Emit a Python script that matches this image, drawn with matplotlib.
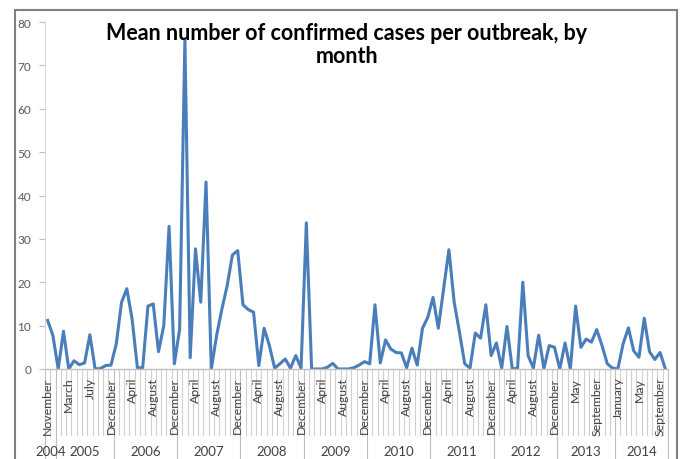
import matplotlib.pyplot as plt
import matplotlib.transforms as mtransforms
from matplotlib.patches import Rectangle

plt.rcParams['font.family'] = ['Lato', 'DejaVu Sans']

# months present in the series, per year
months_by_year = {
    2004: ['November', 'December'],
    2005: ['January', 'February', 'March', 'April', 'May', 'June', 'July',
           'August', 'September', 'November', 'December'],
    2006: ['January', 'February', 'March', 'April', 'May', 'June', 'July',
           'August', 'September', 'October', 'November', 'December'],
    2007: ['January', 'February', 'March', 'April', 'May', 'June', 'July',
           'August', 'September', 'October', 'November', 'December'],
    2008: ['January', 'February', 'March', 'April', 'May', 'June', 'July',
           'August', 'September', 'October', 'November', 'December'],
    2009: ['January', 'February', 'March', 'April', 'May', 'June', 'July',
           'August', 'September', 'October', 'November', 'December'],
    2010: ['January', 'February', 'March', 'April', 'May', 'June', 'July',
           'August', 'September', 'October', 'November', 'December'],
    2011: ['January', 'February', 'March', 'April', 'May', 'June', 'July',
           'August', 'September', 'October', 'November', 'December'],
    2012: ['January', 'February', 'March', 'April', 'May', 'June', 'July',
           'August', 'September', 'October', 'November', 'December'],
    2013: ['January', 'March', 'April', 'May', 'June', 'July',
           'August', 'September', 'October', 'November', 'December'],
    2014: ['January', 'February', 'March', 'April', 'May', 'June', 'July',
           'August', 'September', 'October'],
}

# mean confirmed cases per outbreak
mean_cases = [
    11.2, 7.7, 0.0, 8.7, 0.0, 1.9, 1.0, 1.4, 7.9, 0.0,
    0.1, 0.8, 0.9, 5.8, 15.4, 18.5, 11.5, 0.3, 0.3, 14.5,
    15.0, 4.0, 10.0, 32.9, 1.2, 9.2, 76.0, 2.6, 27.7, 15.4,
    43.1, 0.0, 7.7, 13.8, 19.2, 26.3, 27.3, 14.8, 13.7, 13.1,
    0.8, 9.4, 5.4, 0.2, 1.2, 2.3, 0.2, 3.1, 0.2, 33.7,
    0.0, 0.0, 0.0, 0.4, 1.3, 0.0, 0.0, 0.0, 0.3, 0.9,
    1.7, 1.2, 14.8, 1.4, 6.7, 4.6, 3.8, 3.7, 0.3, 4.8,
    0.9, 9.4, 11.9, 16.5, 9.4, 18.5, 27.5, 15.4, 8.5, 1.2,
    0.2, 8.3, 7.1, 14.8, 3.1, 6.0, 0.2, 9.8, 0.1, 0.1,
    20.0, 3.1, 0.2, 7.8, 0.1, 5.4, 5.0, 0.0, 6.0, 0.0,
    14.5, 5.0, 6.9, 6.2, 9.1, 5.4, 1.2, 0.2, 0.0, 5.8,
    9.5, 4.2, 2.7, 11.7, 4.0, 2.2, 3.8, 0.0,
]

months = []
years = []
for yr, mlist in months_by_year.items():
    for m in mlist:
        months.append(m)
        years.append(yr)
n = len(months)

fig = plt.figure(figsize=(6.81, 4.60), dpi=100)
ax = fig.add_axes([45 / 681, 90 / 460, 623 / 681, 347 / 460])

ax.plot(range(n), mean_cases, color='#4A7EBB', lw=2.2, solid_joinstyle='round')

ax.set_xlim(-0.5, n - 0.5)
ax.set_ylim(0, 80)
ax.set_yticks(range(0, 81, 10))
ax.tick_params(axis='y', labelsize=8.5, colors='#BFBFBF', labelcolor='#595959',
               length=4, width=0.8, pad=6)
ax.set_xticks([])
for s in ['top', 'right']:
    ax.spines[s].set_visible(False)
ax.spines['left'].set_color('#D9D9D9')
ax.spines['bottom'].set_color('#BFBFBF')
ax.spines['bottom'].set_linewidth(1.0)

# category tick lines and year separators below the axis
trans = mtransforms.blended_transform_factory(ax.transData, ax.transAxes)
year_edges = [0]
for i in range(1, n):
    if years[i] != years[i - 1]:
        year_edges.append(i)
year_edges.append(n)
for i in range(n + 1):
    if i in year_edges:
        ax.plot([i - 0.5, i - 0.5], [0, -0.30], transform=trans,
                color='#BFBFBF', lw=0.8, clip_on=False)
    else:
        ax.plot([i - 0.5, i - 0.5], [0, -0.19], transform=trans,
                color='#D0D0D0', lw=0.8, clip_on=False)

# month labels, every fourth category
for i in range(0, n, 4):
    ax.text(i, -0.022, months[i], transform=trans, rotation=90,
            ha='center', va='top', fontsize=8.8, color='#404040')

# year labels centred under each group
for a, b in zip(year_edges[:-1], year_edges[1:]):
    ax.text((a + b - 1) / 2, -0.235, str(years[a]), transform=trans,
            ha='center', va='center', fontsize=9.5, color='#404040')

fig.text(347 / 681, 1 - 45 / 460,
         'Mean number of confirmed cases per outbreak, by\nmonth',
         ha='center', va='center', fontsize=15.5, fontweight='bold',
         linespacing=1.15, color='black')

# chart border
fig.patches.append(Rectangle((15 / 681, -0.05), 662 / 681, 1.05 - 11 / 460,
                             transform=fig.transFigure, fill=False,
                             edgecolor='#808080', lw=1.5))

fig.savefig('out.png', dpi=100)
